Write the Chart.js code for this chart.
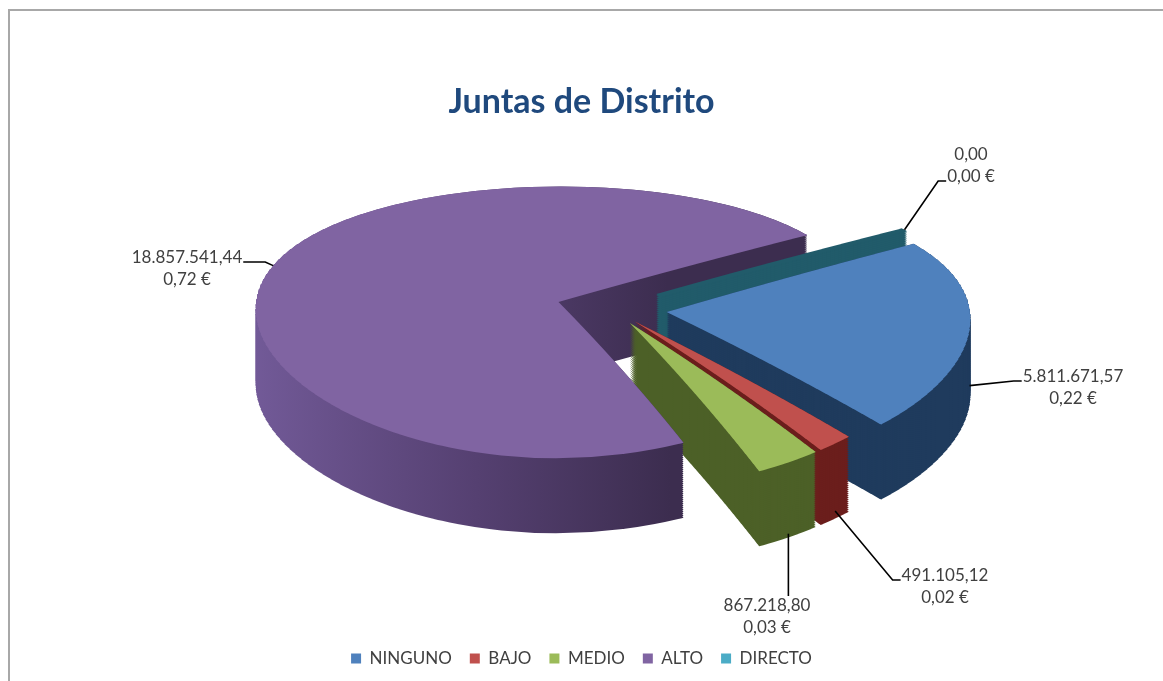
<!DOCTYPE html>
<html>
<head>
<meta charset="utf-8">
<script src="https://cdn.jsdelivr.net/npm/chart.js@4.4.1/dist/chart.umd.min.js"></script>
<style>
  html, body { margin: 0; padding: 0; background: #fff; }
  #wrap { position: relative; width: 1163px; height: 681px; overflow: hidden; }
  #frame { position: absolute; left: 8px; top: 9px; right: -10px; bottom: -10px; border-top: 2px solid #a8a8a8; border-left: 2px solid #a8a8a8; }
  canvas { position: absolute; left: 0; top: 0; }
</style>
</head>
<body>
<div id="wrap">
  <div id="frame"></div>
  <canvas id="chart" width="1163" height="681"></canvas>
</div>
<script>
// data
const categories = ['NINGUNO', 'BAJO', 'MEDIO', 'ALTO', 'DIRECTO'];
const amounts = [5811671.57, 491105.12, 867218.80, 18857541.44, 0];

// look
const topColors = ['#4F81BD', '#C0504D', '#9BBB59', '#8064A2', '#4BACC6'];
const sideColors = ['#1F3B5D', '#6B1E1C', '#4C6027', null, '#215B6A'];
const explode = [55, 36, 36, 56, 56];
const anchorDrop = [0.75, 0.9, 0.95, 0, 0];
const labelPlace = [
  { dx: 461, dy: 79, attach: 'left', line: 0 },
  { dx: 333, dy: 278, attach: 'left', line: 0 },
  { dx: 155, dy: 308, attach: 'top', line: 0 },
  { dx: -425, dy: -40, attach: 'right', line: 0 },
  { dx: 359, dy: -143, attach: 'left', line: 1 }
];

// 3d view: where the pie centre lands, tilt and a bit of perspective
const RADIUS = 303;
const DEPTH = 75;
const VIEW_X = 612;
const VIEW_Y = 309;
const K0 = 0.445;      // vertical squash at the centre
const PERSP_Y = 0.0005;
const PERSP_X = 0.00015;
const BAND = 5;

const total = amounts.reduce((a, b) => a + b, 0);

function fmtNum(v) {
  const [i, d] = v.toFixed(2).split('.');
  return i.replace(/\B(?=(\d{3})+(?!\d))/g, '.') + ',' + d;
}
function fmtShare(v) {
  return (total ? v / total : 0).toFixed(2).replace('.', ',') + ' €';
}

const hOf = dv => K0 * dv / (1 - PERSP_Y * dv);
const hInv = y => y / (K0 + PERSP_Y * y);
const gOf = dv => 1 / (1 - PERSP_X * dv);

function bands() {
  const out = [];
  const r0 = Math.floor(hOf(-RADIUS - 75) / BAND) * BAND;
  const r1 = Math.ceil(hOf(RADIUS + 75) / BAND) * BAND;
  for (let r = r0; r < r1; r += BAND) {
    const d0 = hInv(r), d1 = hInv(r + BAND);
    out.push({ y0: VIEW_Y + r, y1: VIEW_Y + r + BAND, dv0: d0, ky: BAND / (d1 - d0), g: gOf((d0 + d1) / 2) });
  }
  return out;
}
const BANDS = bands();

// paint the pie once, dropped by `drop` px, band by band so the far side is flatter than the near side
function paintLayer(chart, drop, painter) {
  const ctx = chart.ctx;
  const arc0 = chart.getDatasetMeta(0).data[0];
  const cx = arc0.x, cy = arc0.y;
  BANDS.forEach(b => {
    ctx.save();
    ctx.setTransform(1, 0, 0, 1, 0, 0);
    ctx.beginPath();
    ctx.rect(0, b.y0 + drop, chart.width, b.y1 - b.y0);
    ctx.clip();
    ctx.setTransform(b.g, 0, 0, b.ky, VIEW_X - b.g * cx, b.y0 + drop - b.ky * (cy + b.dv0));
    painter(ctx);
    ctx.restore();
  });
}

function project(chart, u, v, drop) {
  const arc0 = chart.getDatasetMeta(0).data[0];
  const dv = v - arc0.y;
  return { x: VIEW_X + gOf(dv) * (u - arc0.x), y: VIEW_Y + hOf(dv) + drop };
}

function drawSlices(ctx, meta, walls) {
  meta.data.forEach((arc, j) => {
    const mid = (arc.startAngle + arc.endAngle) / 2;
    ctx.save();
    ctx.translate(Math.cos(mid) * explode[j], Math.sin(mid) * explode[j]);
    if (arc.endAngle - arc.startAngle === 0) {
      // an empty slice still shows its cut face
      if (walls) {
        ctx.strokeStyle = sideColors[j];
        ctx.lineWidth = 9;
        ctx.beginPath();
        ctx.moveTo(arc.x, arc.y);
        ctx.lineTo(arc.x + Math.cos(mid) * arc.outerRadius, arc.y + Math.sin(mid) * arc.outerRadius);
        ctx.stroke();
      }
    } else if (walls) {
      let fill = sideColors[j];
      if (!fill) {
        fill = ctx.createLinearGradient(arc.x - arc.outerRadius, 0, arc.x + 110, 0);
        fill.addColorStop(0, '#725A98');
        fill.addColorStop(0.55, '#554071');
        fill.addColorStop(1, '#3C2D4F');
      }
      const own = arc.options;
      arc.options = Object.assign({}, own, { backgroundColor: fill });
      arc.draw(ctx);
      arc.options = own;
    } else {
      arc.draw(ctx);
    }
    ctx.restore();
  });
}

function drawLabels(chart) {
  const ctx = chart.ctx;
  const meta = chart.getDatasetMeta(0);
  ctx.save();
  ctx.setTransform(1, 0, 0, 1, 0, 0);
  ctx.font = '17px Lato';
  ctx.textAlign = 'center';
  ctx.textBaseline = 'middle';
  meta.data.forEach((arc, j) => {
    const mid = (arc.startAngle + arc.endAngle) / 2;
    const r = arc.outerRadius + explode[j];
    const a = project(chart, arc.x + Math.cos(mid) * r, arc.y + Math.sin(mid) * r, anchorDrop[j] * DEPTH);
    const p = labelPlace[j];
    const tx = VIEW_X + p.dx, ty = VIEW_Y + p.dy;
    const lines = [fmtNum(amounts[j]), fmtShare(amounts[j])];
    const lineY = [ty - 11, ty + 11];

    ctx.strokeStyle = '#000';
    ctx.lineWidth = 1.6;
    ctx.beginPath();
    ctx.moveTo(a.x, a.y);
    if (p.attach === 'top') {
      ctx.lineTo(a.x, lineY[0] - 10);
    } else {
      const w = ctx.measureText(lines[p.line]).width;
      const ey = lineY[p.line] + 4;
      const ex = p.attach === 'left' ? tx - w / 2 - 1 : tx + w / 2 + 1;
      const elbow = p.attach === 'left' ? ex - 8 : ex + 22;
      ctx.lineTo(elbow, ey);
      ctx.lineTo(ex, ey);
    }
    ctx.stroke();

    ctx.fillStyle = '#404040';
    lines.forEach((t, n) => ctx.fillText(t, tx, lineY[n]));
  });
  ctx.restore();
}

const pie3d = {
  id: 'pie3d',
  beforeDatasetsDraw(chart) {
    const meta = chart.getDatasetMeta(0);
    for (let d = DEPTH; d > 0; d -= 2) {
      paintLayer(chart, d, ctx => drawSlices(ctx, meta, true));
    }
    paintLayer(chart, 0, ctx => drawSlices(ctx, meta, true));
    paintLayer(chart, 0, ctx => drawSlices(ctx, meta, false));
    return false;
  },
  afterDraw(chart) {
    drawLabels(chart);
  }
};

new Chart(document.getElementById('chart'), {
  type: 'pie',
  data: {
    labels: categories,
    datasets: [{
      data: amounts,
      backgroundColor: topColors,
      borderWidth: 0
    }]
  },
  plugins: [pie3d],
  options: {
    responsive: false,
    animation: false,
    events: [],
    rotation: 57,
    radius: RADIUS,
    layout: { padding: { top: 0, bottom: 4, left: 0, right: 0 } },
    plugins: {
      title: {
        display: true,
        text: 'Juntas de Distrito',
        color: '#1F497D',
        font: { family: 'Lato', size: 34, weight: 'bold' },
        padding: { top: 82, bottom: 10 }
      },
      legend: {
        position: 'bottom',
        labels: {
          color: '#404040',
          font: { family: 'Lato', size: 17 },
          boxWidth: 10,
          boxHeight: 10,
          padding: 18
        }
      },
      tooltip: { enabled: false }
    }
  }
});
</script>
</body>
</html>
